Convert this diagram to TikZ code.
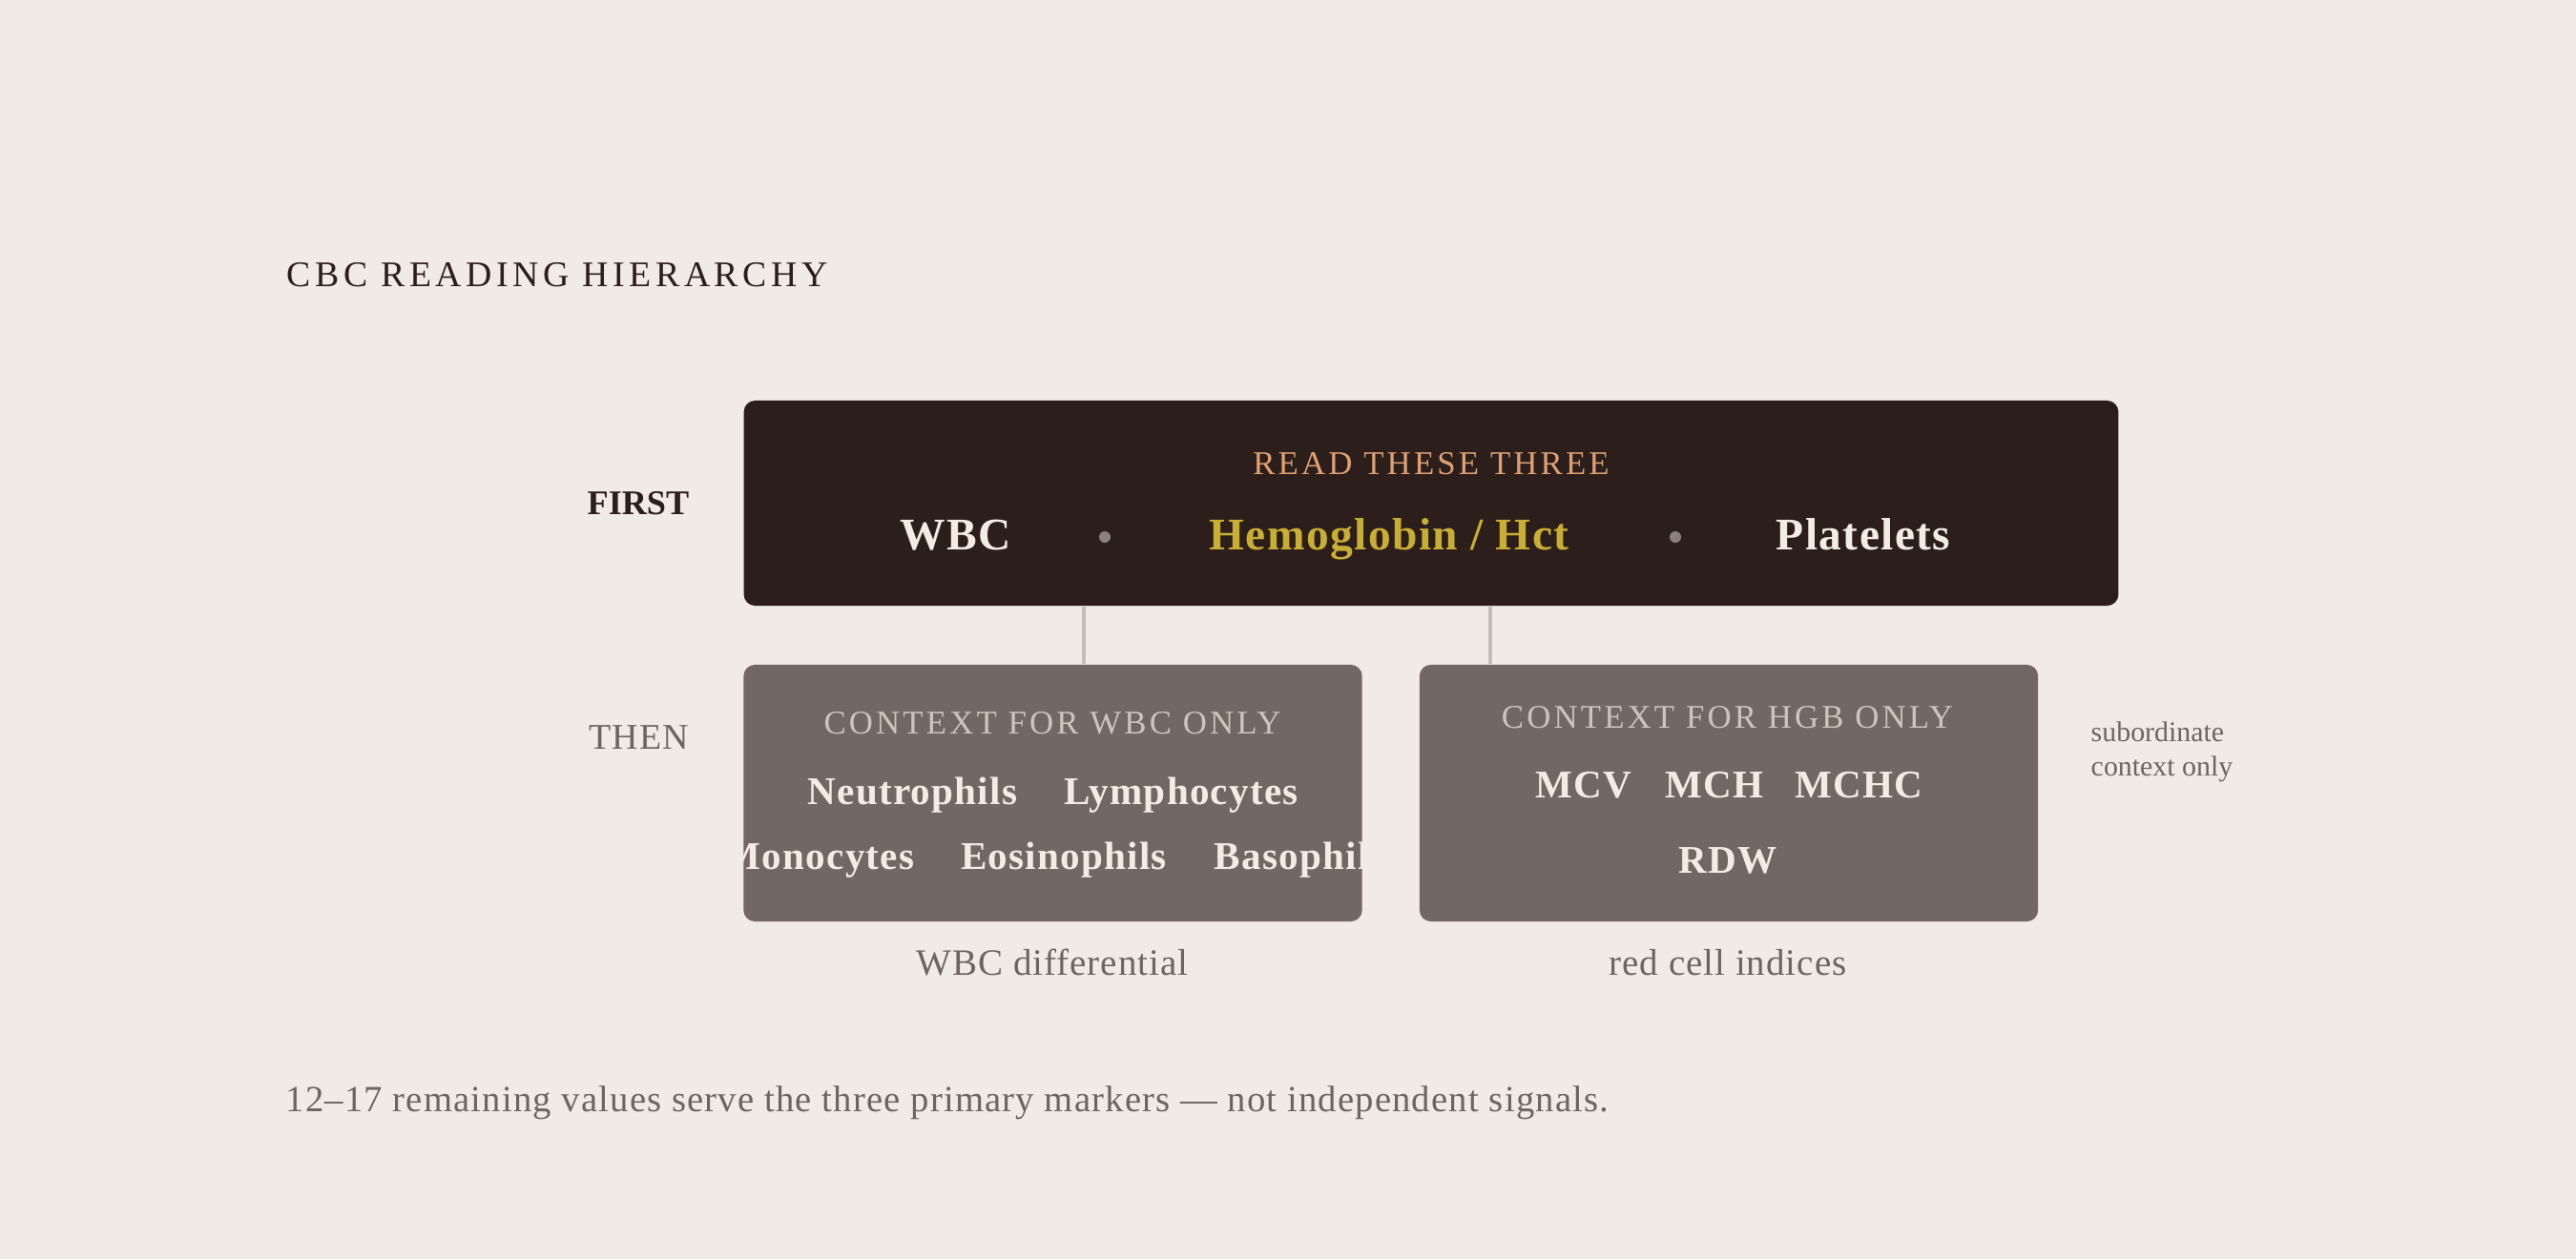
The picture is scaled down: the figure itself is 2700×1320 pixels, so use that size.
\documentclass[tikz,border=0pt]{standalone}
\usepackage{fontspec}
\setmainfont{Liberation Serif}
\usetikzlibrary{positioning}
\definecolor{paper}{HTML}{F0EBE5}
\definecolor{ink}{HTML}{2C1F1B}
\definecolor{slate}{HTML}{726762}
\definecolor{rulegray}{HTML}{C3BDB8}
\definecolor{cream}{HTML}{F2ECE4}
\definecolor{peach}{HTML}{DFA073}
\definecolor{gold}{HTML}{C9AE34}
\definecolor{dotgray}{HTML}{8A807C}
\definecolor{pale}{HTML}{CFC4BD}
\definecolor{muted}{HTML}{6F6560}
\begin{document}
\begin{tikzpicture}[x=0.01cm,y=-0.01cm,
  headbox/.style={fill=ink, rounded corners=3.4pt, minimum width=14.4cm, minimum height=2.15cm, inner sep=0},
  subbox/.style={fill=slate, rounded corners=3.4pt, minimum width=6.48cm, minimum height=2.69cm, inner sep=0},
  link/.style={draw=rulegray, line width=1.15pt},
  sep/.style={circle, fill=dotgray, minimum size=0.12cm, inner sep=0},
  key/.style={font={\fontsize{13.5}{16}\selectfont\bfseries\addfontfeatures{LetterSpace=3}}, inner sep=0, anchor=base},
  item/.style={font={\fontsize{11.7}{14}\selectfont\bfseries\addfontfeatures{LetterSpace=3}}, text=cream, inner sep=0, anchor=base},
  tag/.style={font={\fontsize{9.9}{12}\selectfont\addfontfeatures{LetterSpace=9}}, inner sep=0, anchor=base},
  caption/.style={font={\fontsize{11.1}{13}\selectfont\addfontfeatures{LetterSpace=2.5}}, text=muted, inner sep=0, anchor=base}]
\useasboundingbox[fill=paper] (0,0) rectangle (2700,1320);
\node[font={\fontsize{10.75}{13}\selectfont\addfontfeatures{LetterSpace=12}}, text=ink, inner sep=0, anchor=base west] (title) at (300,300) {CBC READING HIERARCHY};
\node[font={\fontsize{10.3}{12}\selectfont\bfseries}, text=ink, inner sep=0, anchor=base east] (first) at (723,539) {FIRST};
\node[font={\fontsize{10.8}{13}\selectfont\addfontfeatures{LetterSpace=3}}, text=muted, inner sep=0, anchor=base east] (then) at (723,785) {THEN};
\node[headbox] (primary) at (1500,527.5) {};
\node[tag, text=peach] (readthree) at (1500,497) {READ THESE THREE};
\node[key, text=cream] (wbc) at (1002,576) {WBC};
\node[sep] (dotA) at (1158,563) {};
\node[key, text=gold] (hgb) at (1456,576) {Hemoglobin / Hct};
\node[sep] (dotB) at (1756,563) {};
\node[key, text=cream] (plt) at (1953,576) {Platelets};
\node[subbox] (wbcctx) at (1103.5,831.5) {};
\node[subbox] (hgbctx) at (1812,831.5) {};
\coordinate (wbctap) at (1136,0);
\coordinate (hgbtap) at (1562,0);
\draw[link] (primary.south -| wbctap) -- (wbcctx.north -| wbctap);
\draw[link] (primary.south -| hgbtap) -- (hgbctx.north -| hgbtap);
\node[tag, text=pale] (wbclabel) at (1103,769) {CONTEXT FOR WBC ONLY};
\node[item] (neut) at (956.5,843) {Neutrophils};
\node[item] (lymph) at (1238,843) {Lymphocytes};
\begin{scope}
\clip[rounded corners=3.4pt] (wbcctx.north west) rectangle (wbcctx.south east);
\node[item, anchor=base east] (mono) at (959,911) {Monocytes};
\node[item] (eos) at (1115,911) {Eosinophils};
\node[item, anchor=base west] (baso) at (1272,911) {Basophils};
\end{scope}
\node[tag, text=pale] (hgblabel) at (1810.5,763) {CONTEXT FOR HGB ONLY};
\node[item] (mcv) at (1660,836) {MCV};
\node[item] (mch) at (1796.5,836) {MCH};
\node[item] (mchc) at (1948.5,836) {MCHC};
\node[item] (rdw) at (1811,915) {RDW};
\node[caption] (wbcdiff) at (1103,1022) {WBC differential};
\node[caption] (indices) at (1811,1022) {red cell indices};
\node[caption, font={\fontsize{8.5}{10}\selectfont}, anchor=base west] (subA) at (2191,777) {subordinate};
\node[caption, font={\fontsize{8.5}{10}\selectfont}, anchor=base west] (subB) at (2191,813) {context only};
\node[caption, font={\fontsize{11}{13}\selectfont\addfontfeatures{LetterSpace=3}}, anchor=base west] (note) at (299,1165) {12–17 remaining values serve the three primary markers — not independent signals.};
\end{tikzpicture}
\end{document}
